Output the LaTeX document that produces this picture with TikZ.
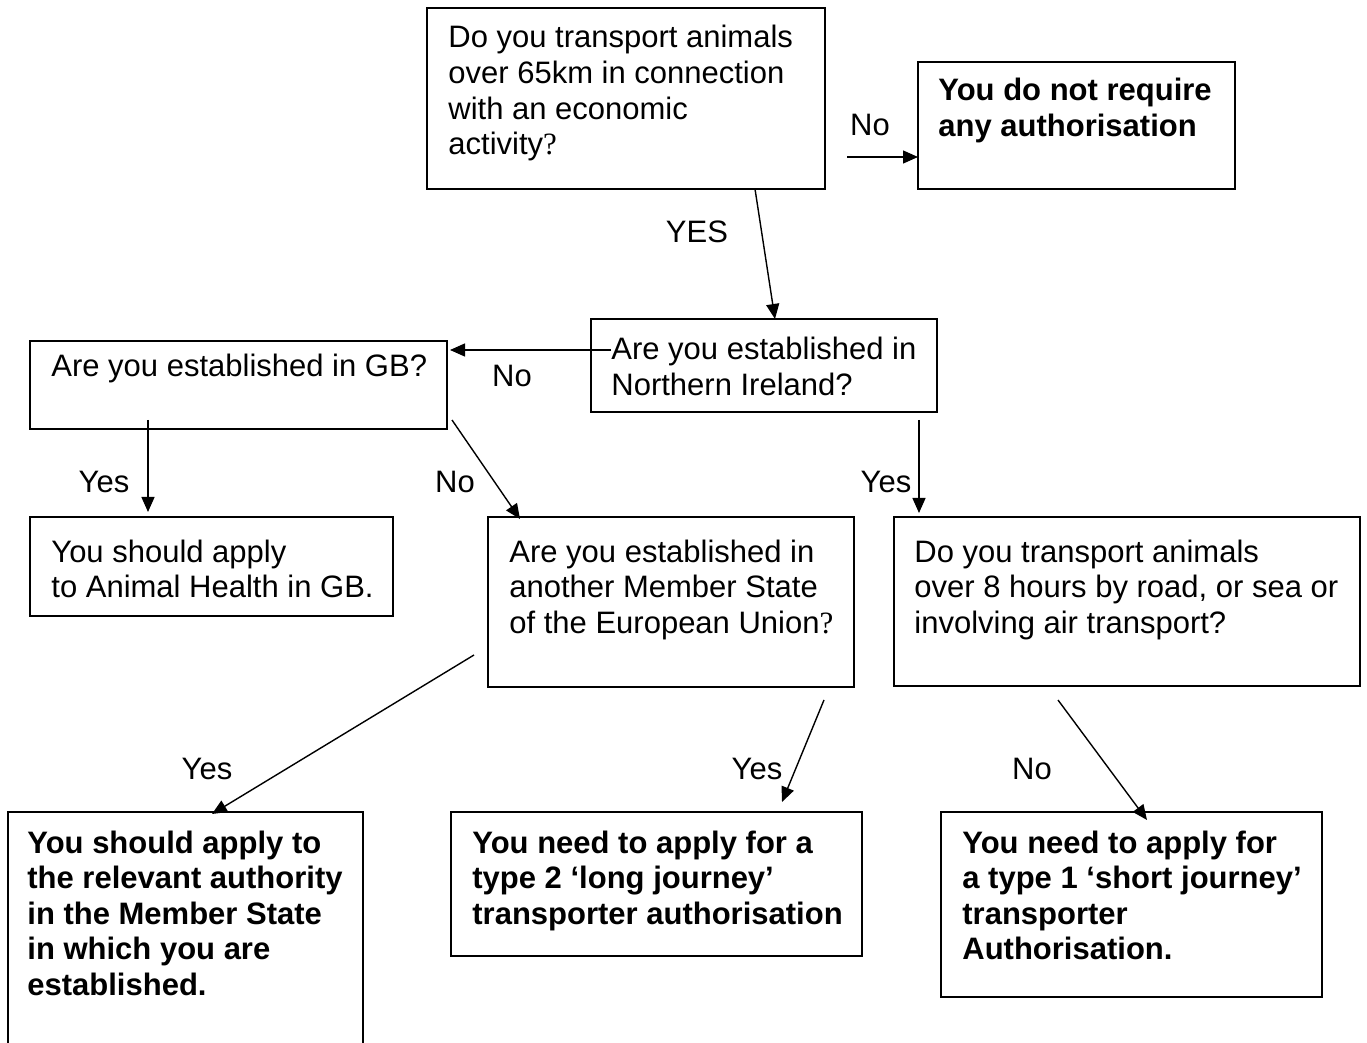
\documentclass[tikz,border=0pt]{standalone}
\usepackage{fontspec}
\setmainfont{Liberation Sans}
\newfontfamily\qfont{Liberation Serif}
\usetikzlibrary{arrows.meta}
\newcommand\mlines[1]{\begin{tabular}[t]{@{}l@{}}#1\end{tabular}}
\newcommand\sq{{\qfont ?}}
\begin{document}
\begin{tikzpicture}[x=0.5pt,y=-0.5pt,
 box/.style={draw, line width=0.9pt, inner sep=0pt, outer sep=0pt, anchor=north west},
 txt/.style={inner sep=0pt, anchor=base west, font=\fontsize{15.5}{17.8}\selectfont},
 btxt/.style={txt, font=\fontsize{15.5}{17.8}\selectfont\bfseries},
 lbl/.style={inner sep=0pt, font=\fontsize{15.5}{17.8}\selectfont},
 arr/.style={line width=0.7pt, -{Triangle[length=7.5pt,width=6.5pt]}}]
\useasboundingbox (0,0) rectangle (1367,1043);
% boxes
\node[box, minimum width=199pt, minimum height=90.5pt] (q1) at (427,8) {};
\node[box, minimum width=158.5pt, minimum height=63.5pt] (noreq) at (918,62) {};
\node[box, minimum width=173pt, minimum height=46.5pt] (ni) at (591,319) {};
\node[box, minimum width=208.5pt, minimum height=44pt] (gb) at (30,341) {};
\node[box, minimum width=181.5pt, minimum height=49.5pt] (ah) at (30,517) {};
\node[box, minimum width=183pt, minimum height=85pt] (ms) at (488,517) {};
\node[box, minimum width=233pt, minimum height=84.5pt] (eh) at (894,517) {};
\node[box, minimum width=177.5pt, minimum height=130pt] (ra) at (8,812) {};
\node[box, minimum width=205.5pt, minimum height=72pt] (t2) at (451,812) {};
\node[box, minimum width=190.5pt, minimum height=92.5pt] (t1) at (941,812) {};
% texts
\node[txt] (q1t) at (448,48) {\mlines{Do you transport animals\\over 65km in connection\\with an economic\\activity\sq}};
\node[btxt] (noreqt) at (938,101) {\mlines{You do not require\\any authorisation}};
\node[txt] (nit) at (611,360) {\mlines{Are you established in\\Northern Ireland?}};
\node[txt] (gbt) at (51,377) {Are you established in GB?};
\node[txt] (aht) at (51,562) {\mlines{You should apply\\to Animal Health in GB.}};
\node[txt] (mst) at (509,562) {\mlines{Are you established in\\another Member State\\of the European Union\sq}};
\node[txt] (eht) at (914,562) {\mlines{Do you transport animals\\over 8 hours by road, or sea or\\involving air transport?}};
\node[btxt] (rat) at (27,853) {\mlines{You should apply to\\the relevant authority\\in the Member State\\in which you are\\established.}};
\node[btxt] (t2t) at (472,853) {\mlines{You need to apply for a\\type 2 `long journey'\\transporter authorisation}};
\node[btxt] (t1t) at (962,853) {\mlines{You need to apply for\\a type 1 `short journey'\\transporter\\Authorisation.}};
% connectors
\draw[arr] ([shift={(22,-32)}]q1.south east) -- ([shift={(0,-32)}]noreq.south west);
\draw[arr] ([shift={(-70,0)}]q1.south east) -- ([shift={(184,0)}]ni.north west);
\draw[arr] ([shift={(20,31)}]ni.north west) -- ([shift={(3,9)}]gb.north east);
\draw[arr] ([shift={(118,-9)}]gb.south west) -- ([shift={(118,-5)}]ah.north west);
\draw[arr] ([shift={(5,-9)}]gb.south east) -- ([shift={(32,2)}]ms.north west);
\draw[arr] ([shift={(-18,8)}]ni.south east) -- ([shift={(25,-4)}]eh.north west);
\draw[arr] ([shift={(-14,-32)}]ms.south west) -- ([shift={(204,2)}]ra.north west);
\draw[arr] ([shift={(-30,13)}]ms.south east) -- ([shift={(-80,-10)}]t2.north east);
\draw[arr] ([shift={(164,14)}]eh.south west) -- ([shift={(206,8)}]t1.north west);
% labels
\node[lbl] (l1) at (870,125) {No};
\node[lbl] (l2) at (697,232) {YES};
\node[lbl] (l3) at (512,376) {No};
\node[lbl] (l4) at (104,482) {Yes};
\node[lbl] (l5) at (455,482) {No};
\node[lbl] (l6) at (886,482) {Yes};
\node[lbl] (l7) at (207,769) {Yes};
\node[lbl] (l8) at (757,769) {Yes};
\node[lbl] (l9) at (1032,769) {No};
\end{tikzpicture}
\end{document}
